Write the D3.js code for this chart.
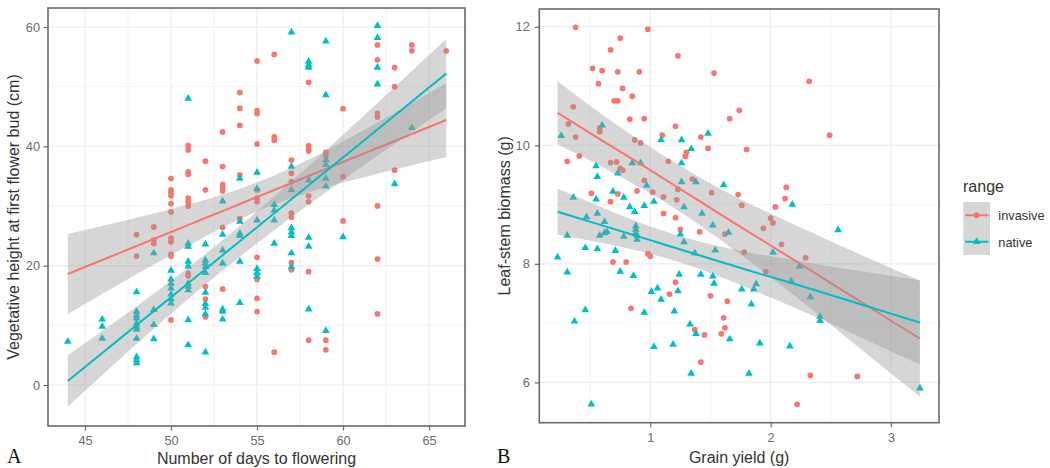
<!DOCTYPE html>
<html><head><meta charset="utf-8">
<script src="https://cdn.jsdelivr.net/npm/d3@7"></script>
<style>
html,body{margin:0;padding:0;background:#fff;}
svg{display:block;}
text{font-family:"Liberation Sans",Arial,Helvetica,sans-serif;}
</style>
</head><body>
<svg id="chart" width="1050" height="468"></svg>
<script>
// ---------------- DATA ----------------
const seriesNames = ["invasive", "native"];
const seriesColors = ["#F8766D", "#00BFC4"];

// Panel A: [days to flowering, vegetative height (cm)]
const leftInvasive = [
 [48,25.2],[48,21.6],
 [49,26.5],[49,24.3],[49,23.7],
 [50,34.6],[50,32.7],[50,32.2],[50,31.7],[50,30.4],[50,29.0],[50,24.6],[50,24.0],[50,21.9],[50,21.6],[50,10.9],
 [51,40.1],[51,39.4],[51,35.7],[51,35.3],[51,31.3],[51,30.7],[51,30.0],[51,18.7],[51,18.3],
 [52,37.5],[52,32.7],[52,16.5],[52,14.4],[52,11.4],
 [53,42.4],[53,36.6],[53,33.6],[53,33.1],[53,32.5],[53,26.4],[53,16.1],
 [54,49.0],[54,46.4],[54,43.5],[54,35.2],[54,27.9],
 [55,54.3],[55,46.0],[55,45.5],[55,40.4],[55,32.7],[55,31.3],[55,30.7],[55,21.4],[55,17.7],[55,14.5],[55,12.3],
 [56,55.4],[56,41.6],[56,41.0],[56,5.5],
 [57,37.7],[57,35.5],[57,34.1],[57,28.8],[57,28.1],[57,20.5],[57,19.3],
 [58,50.7],[58,40.1],[58,39.6],[58,39.2],[58,31.7],[58,30.7],[58,19.0],[58,7.5],
 [59,39.0],[59,38.4],[59,7.5],[59,5.9],
 [60,46.3],[60,34.9],[60,27.5],
 [62,57.0],[62,54.5],[62,45.5],[62,44.9],[62,30.0],[62,21.1],[62,11.9],
 [63,53.2],[63,50.0],[63,36.0],
 [64,57.0],[64,56.0],
 [66,56.0]
];
const leftNative = [
 [44,7.3],
 [46,11.0],[46,9.8],[46,7.8],
 [48,15.6],[48,12.3],[48,11.7],[48,11.2],[48,10.3],[48,9.8],[48,9.3],[48,7.8],[48,4.7],[48,4.2],[48,3.7],
 [49,22.1],[49,12.6],[49,10.1],[49,7.7],
 [50,19.2],[50,17.7],[50,17.0],[50,16.2],[50,15.2],[50,14.4],[50,13.7],
 [51,48.0],[51,23.7],[51,23.2],[51,20.7],[51,19.9],[51,17.0],[51,16.5],[51,15.9],[51,10.9],[51,6.7],
 [52,23.6],[52,20.9],[52,20.4],[52,19.8],[52,18.8],[52,15.5],[52,13.6],[52,13.0],[52,11.9],[52,5.5],
 [53,30.8],[53,25.2],[53,22.6],[53,20.4],[53,12.7],[53,12.3],[53,11.0],
 [54,34.6],[54,27.4],[54,25.4],[54,25.0],[54,20.7],[54,13.8],
 [55,35.6],[55,32.9],[55,27.6],[55,19.5],[55,18.8],[55,18.2],
 [56,30.2],[56,29.3],[56,27.6],[56,23.7],
 [57,59.1],[57,36.6],[57,32.7],[57,26.3],[57,25.6],[57,25.0],[57,22.1],[57,19.8],
 [58,54.2],[58,53.6],[58,53.2],[58,34.3],[58,24.7],[58,23.2],[58,12.7],
 [59,57.6],[59,48.6],[59,37.7],[59,36.9],[59,34.6],[59,33.3],[59,9.1],
 [60,24.8],
 [62,60.2],[62,58.2],[62,53.2],[62,50.4],
 [63,33.7],
 [64,43.1]
];
// Panel A fitted lines with 95% band
const leftFitX      = [44, 46, 48, 50, 52, 54, 56, 58, 60, 62, 64, 66];
const leftInvFit    = [18.6, 20.95, 23.29, 25.64, 27.98, 30.33, 32.68, 35.02, 37.37, 39.71, 42.06, 44.41];
const leftInvLo     = [11.90, 15.25, 18.55, 21.79, 24.90, 27.77, 30.24, 32.24, 33.92, 35.42, 36.84, 38.21];
const leftInvHi     = [25.30, 26.65, 28.03, 29.49, 31.06, 32.89, 35.12, 37.80, 40.82, 44.00, 47.28, 50.61];
const leftNatFit    = [0.67, 5.35, 10.04, 14.72, 19.41, 24.09, 28.77, 33.46, 38.14, 42.83, 47.51, 52.19];
const leftNatLo     = [-3.63, 1.66, 6.87, 11.96, 16.86, 21.51, 25.94, 30.20, 34.33, 38.40, 42.41, 46.39];
const leftNatHi     = [4.97, 9.04, 13.21, 17.48, 21.96, 26.67, 31.60, 36.72, 41.95, 47.26, 52.61, 57.99];
const leftXTicks = [45, 50, 55, 60, 65];
const leftYTicks = [0, 20, 40, 60];
const leftXMinor = [47.5, 52.5, 57.5, 62.5];
const leftYMinor = [10, 30, 50];

// Panel B: [grain yield (g), leaf-stem biomass (g)]
const rightInvasive = [
 [0.38,11.99],[0.98,11.96],[0.75,11.81],[0.67,11.61],[1.23,11.51],[0.52,11.30],[0.60,11.26],[0.73,11.24],
 [0.91,11.24],[1.53,11.22],[2.32,11.08],[0.57,11.04],[0.77,10.96],[0.85,10.83],[0.70,10.75],[0.73,10.75],
 [0.36,10.65],[1.74,10.59],[1.66,10.45],[0.83,10.44],[0.95,10.45],[0.32,10.36],[1.21,10.32],[0.58,10.29],
 [0.58,10.23],[2.49,10.17],[1.10,10.17],[0.38,10.14],[1.42,10.14],[0.87,10.09],[0.92,10.04],[1.48,9.95],
 [1.80,9.93],[1.30,9.88],[1.29,9.81],[0.41,9.82],[0.31,9.73],[1.15,9.73],[0.67,9.71],[0.72,9.72],
 [0.75,9.61],[0.77,9.58],[0.95,9.41],[1.35,9.43],[2.13,9.29],[1.23,9.26],[0.89,9.23],[1.02,9.21],
 [1.51,9.20],[0.51,9.19],[0.73,9.18],[1.73,9.17],[1.11,9.13],[2.12,9.10],[1.22,9.08],[0.67,9.05],
 [1.76,8.99],[2.04,8.96],[1.11,8.85],[1.21,8.78],[2.00,8.77],[2.02,8.69],[1.94,8.60],[1.25,8.58],
 [1.41,8.54],[1.62,8.50],[2.09,8.33],[1.78,8.20],[0.98,8.17],[1.00,8.13],[2.29,8.10],[0.69,8.03],
 [0.80,8.03],[1.96,7.87],[1.21,7.69],[1.16,7.49],[1.50,7.46],[1.64,7.37],[0.84,7.25],[1.61,7.09],
 [1.62,6.92],[1.37,6.89],[1.45,6.80],[1.59,6.82],[1.42,6.34],[2.33,6.12],[2.72,6.10],[2.22,5.63]
];
const rightNative = [
 [0.26,10.16],[0.60,10.34],[1.09,10.09],[1.26,10.09],[1.34,9.94],[1.48,10.20],[0.55,9.65],[0.56,9.47],
 [0.73,9.53],[0.85,9.70],[0.92,9.70],[0.97,9.32],[1.26,9.70],[1.26,9.38],[1.38,9.38],[1.61,9.33],
 [0.36,9.12],[0.55,9.09],[0.69,9.22],[0.78,9.12],[0.83,8.96],[0.87,8.88],[0.95,8.98],[1.03,9.05],
 [1.28,8.96],[1.43,8.85],[2.18,9.00],[0.47,8.79],[0.56,8.85],[0.62,8.71],[0.88,8.64],[0.88,8.58],
 [1.52,8.65],[1.65,8.53],[2.56,8.57],[0.31,8.48],[0.64,8.54],[0.89,8.48],[0.58,8.48],[0.62,8.52],
 [0.78,8.46],[0.88,8.52],[0.89,8.41],[1.25,8.50],[1.28,8.37],[1.54,8.23],[2.02,8.19],[1.37,8.18],
 [0.23,8.11],[0.46,8.27],[0.56,8.25],[0.71,8.22],[2.24,7.96],[0.31,7.86],[0.75,7.87],[0.86,7.80],
 [1.24,7.82],[1.42,7.82],[1.52,7.79],[1.53,7.67],[1.88,7.66],[1.86,7.57],[1.76,7.57],[2.17,7.71],
 [1.01,7.53],[1.06,7.59],[1.09,7.40],[1.23,7.54],[2.33,7.44],[1.84,7.32],[1.20,7.20],[0.95,7.18],
 [0.46,7.22],[2.41,7.11],[2.41,7.04],[0.37,7.03],[1.33,6.98],[1.38,6.82],[1.66,6.73],[1.91,6.66],
 [2.16,6.61],[1.03,6.60],[1.19,6.64],[1.34,6.15],[1.82,6.15],[0.51,5.63],[3.24,5.90]
];
const rightFitX   = [0.23, 0.6, 1.0, 1.4, 1.8, 2.2, 2.6, 3.0, 3.24];
const rightInvFit = [10.55, 10.08, 9.58, 9.07, 8.56, 8.06, 7.55, 7.04, 6.74];
const rightInvLo  = [10.02, 9.64, 9.19, 8.67, 8.08, 7.46, 6.81, 6.15, 5.76];
const rightInvHi  = [11.08, 10.52, 9.97, 9.47, 9.04, 8.66, 8.29, 7.93, 7.72];
const rightNatFit = [8.88, 8.65, 8.40, 8.15, 7.90, 7.66, 7.41, 7.16, 7.01];
const rightNatLo  = [8.49, 8.35, 8.17, 7.92, 7.60, 7.26, 6.90, 6.52, 6.30];
const rightNatHi  = [9.27, 8.95, 8.63, 8.38, 8.20, 8.06, 7.92, 7.80, 7.72];
const rightXTicks = [1, 2, 3];
const rightYTicks = [6, 8, 10, 12];
const rightXMinor = [0.5, 1.5, 2.5];
const rightYMinor = [7, 9, 11];

// ---------------- DRAW ----------------
const svg = d3.select("#chart");
svg.append("rect").attr("width", 1050).attr("height", 468).attr("fill", "#fff");

const GRID = "#ebebeb", BORDER = "#6a6a6a", TICKTXT = "#6b6b6b", TITLE = "#333";
const triangle = d3.symbol().type(d3.symbolTriangle).size(26);
const circle = d3.symbol().type(d3.symbolCircle).size(26);

function drawPanel(c) {
  const g = svg.append("g");
  const x = d3.scaleLinear().domain(c.xDomain).range([c.left, c.right]);
  const y = d3.scaleLinear().domain(c.yDomain).range([c.bottom, c.top]);

  // grid
  g.selectAll(null).data(c.xMinor).join("line")
    .attr("x1", d => x(d)).attr("x2", d => x(d)).attr("y1", c.top).attr("y2", c.bottom)
    .attr("stroke", GRID).attr("stroke-width", 0.6);
  g.selectAll(null).data(c.yMinor).join("line")
    .attr("y1", d => y(d)).attr("y2", d => y(d)).attr("x1", c.left).attr("x2", c.right)
    .attr("stroke", GRID).attr("stroke-width", 0.6);
  g.selectAll(null).data(c.xTicks).join("line")
    .attr("x1", d => x(d)).attr("x2", d => x(d)).attr("y1", c.top).attr("y2", c.bottom)
    .attr("stroke", GRID).attr("stroke-width", 1.1);
  g.selectAll(null).data(c.yTicks).join("line")
    .attr("y1", d => y(d)).attr("y2", d => y(d)).attr("x1", c.left).attr("x2", c.right)
    .attr("stroke", GRID).attr("stroke-width", 1.1);

  // points
  const syms = [circle, triangle];
  c.points.forEach((pts, i) => {
    g.selectAll(null).data(pts).join("path")
      .attr("d", syms[i])
      .attr("transform", d => `translate(${x(d[0])},${y(d[1])})`)
      .attr("fill", seriesColors[i]);
  });

  // smooth: ribbon then line, per group
  c.fits.forEach((f, i) => {
    const rows = f.x.map((v, k) => ({ x: v, fit: f.fit[k], lo: f.lo[k], hi: f.hi[k] }));
    g.append("path").datum(rows)
      .attr("d", d3.area().curve(d3.curveMonotoneX).x(d => x(d.x)).y0(d => y(d.lo)).y1(d => y(d.hi)))
      .attr("fill", "#999999").attr("fill-opacity", 0.4);
    g.append("path").datum(rows)
      .attr("d", d3.line().curve(d3.curveMonotoneX).x(d => x(d.x)).y(d => y(d.fit)))
      .attr("fill", "none").attr("stroke", seriesColors[i]).attr("stroke-width", 2);
  });

  // border
  g.append("rect").attr("x", c.left).attr("y", c.top)
    .attr("width", c.right - c.left).attr("height", c.bottom - c.top)
    .attr("fill", "none").attr("stroke", BORDER).attr("stroke-width", 1.6);

  // axes
  const ax = g.append("g").attr("transform", `translate(0,${c.bottom})`)
    .call(d3.axisBottom(x).tickValues(c.xTicks).tickSize(4.5).tickPadding(5.5).tickFormat(d3.format("d")));
  const ay = g.append("g").attr("transform", `translate(${c.left},0)`)
    .call(d3.axisLeft(y).tickValues(c.yTicks).tickSize(4.5).tickPadding(c.yPad).tickFormat(d3.format("d")));
  [ax, ay].forEach(a => {
    a.select(".domain").remove();
    a.selectAll(".tick line").attr("stroke", BORDER).attr("stroke-width", 1.2);
    a.selectAll(".tick text").attr("fill", TICKTXT).style("font-size", "12.8px")
      .style("font-family", '"Liberation Sans", Arial, sans-serif');
  });

  // titles
  g.append("text").attr("x", (c.left + c.right) / 2).attr("y", c.xTitleY)
    .attr("text-anchor", "middle").attr("fill", TITLE).style("font-size", "16px").text(c.xTitle);
  g.append("text").attr("transform", `translate(${c.yTitleX},${(c.top + c.bottom) / 2}) rotate(-90)`)
    .attr("text-anchor", "middle").attr("fill", TITLE).style("font-size", "16px").text(c.yTitle);
  g.append("text").attr("x", c.tagX).attr("y", c.tagY).attr("fill", "#111")
    .style("font-family", '"Liberation Serif", "DejaVu Serif", serif').style("font-size", "20px").text(c.tag);
}

drawPanel({
  left: 48, right: 465, top: 8, bottom: 426,
  xDomain: [42.85, 67.09], yDomain: [-6.87, 63.18],
  xTicks: leftXTicks, yTicks: leftYTicks, xMinor: leftXMinor, yMinor: leftYMinor,
  points: [leftInvasive, leftNative],
  fits: [
    { x: leftFitX, fit: leftInvFit, lo: leftInvLo, hi: leftInvHi },
    { x: leftFitX, fit: leftNatFit, lo: leftNatLo, hi: leftNatHi }
  ],
  yPad: 3.5,
  xTitle: "Number of days to flowering", xTitleY: 464,
  yTitle: "Vegetative height at first flower bud (cm)", yTitleX: 18.5,
  tag: "A", tagX: 7, tagY: 462.5
});

drawPanel({
  left: 539.3, right: 939, top: 9, bottom: 422.7,
  xDomain: [0.078, 3.399], yDomain: [5.32, 12.30],
  xTicks: rightXTicks, yTicks: rightYTicks, xMinor: rightXMinor, yMinor: rightYMinor,
  points: [rightInvasive, rightNative],
  fits: [
    { x: rightFitX, fit: rightInvFit, lo: rightInvLo, hi: rightInvHi },
    { x: rightFitX, fit: rightNatFit, lo: rightNatLo, hi: rightNatHi }
  ],
  yPad: 5,
  xTitle: "Grain yield (g)", xTitleY: 463,
  yTitle: "Leaf-stem biomass (g)", yTitleX: 509.5,
  tag: "B", tagX: 497, tagY: 463
});

// legend
const leg = svg.append("g");
leg.append("text").attr("x", 963).attr("y", 191.6).attr("fill", TITLE).style("font-size", "16px").text("range");
const keyY = d3.scaleBand().domain(seriesNames).range([202, 255]);
seriesNames.forEach((n, i) => {
  const cy = keyY(n) + keyY.bandwidth() / 2;
  leg.append("rect").attr("x", 963.3).attr("y", keyY(n)).attr("width", 26.7).attr("height", keyY.bandwidth())
    .attr("fill", "#999999").attr("fill-opacity", 0.4);
  leg.append("line").attr("x1", 965).attr("x2", 988.5).attr("y1", cy).attr("y2", cy)
    .attr("stroke", seriesColors[i]).attr("stroke-width", 2);
  leg.append("path").attr("d", i === 0 ? circle() : triangle())
    .attr("transform", `translate(976.7,${cy})`).attr("fill", seriesColors[i]);
  leg.append("text").attr("x", 998.3).attr("y", cy + 1.5).attr("dominant-baseline", "middle")
    .attr("fill", TITLE).style("font-size", "12.8px").text(n);
});
</script>
</body></html>
